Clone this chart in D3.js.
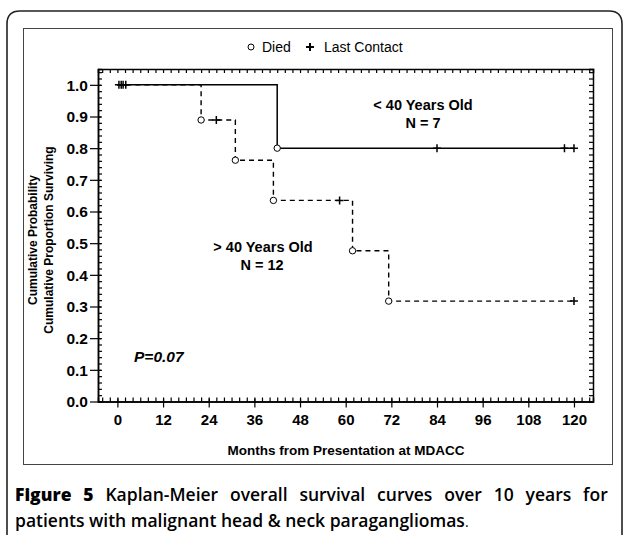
<!DOCTYPE html>
<html lang="en">
<head>
    <meta charset="UTF-8">
    <title>Kaplan-Meier overall survival</title>
    <script src="https://d3js.org/d3.v7.min.js"></script>
    <style>
        body {
            margin: 0;
            padding: 0;
            background: #fff;
        }
        svg text {
            font-family: "Liberation Sans", Arial, sans-serif;
            fill: #000;
        }
        .caption {
            font-family: "Open Sans", "Noto Sans", sans-serif !important;
        }
    </style>
</head>
<body>
    <script>
        // Datos
        const monthTicks = d3.range(0, 121, 12);
        const probTicks = d3.range(0, 1.01, 0.1);

        // < 40 años (N = 7), línea continua
        const youngSteps = [[0, 1.0], [42, 0.8], [120, 0.8]];
        const youngDied = [[42, 0.8]];
        const youngCensored = [[0.4, 1.0], [2.2, 1.0], [84, 0.8], [117.5, 0.8], [120, 0.8]];

        // > 40 años (N = 12), línea discontinua
        const oldSteps = [[0, 1.0], [22, 0.889], [31, 0.762], [41, 0.635], [61.8, 0.476], [71.3, 0.317], [120, 0.317]];
        const oldDied = [[22, 0.889], [31, 0.762], [41, 0.635], [61.8, 0.476], [71.3, 0.317]];
        const oldCensored = [[1.0, 1.0], [1.5, 1.0], [26, 0.889], [58.4, 0.635], [120, 0.317]];

        const W = 624, H = 535;
        const svg = d3.select("body").append("svg")
            .attr("width", W)
            .attr("height", H);

        // Marcos
        svg.append("path")
            .attr("d", "M7,560 L7,24 Q7,11 20,11 L609,11 Q622,11 622,24 L622,560")
            .attr("fill", "none")
            .attr("stroke", "#222")
            .attr("stroke-width", 1.6);

        svg.append("rect")
            .attr("x", 23.5).attr("y", 28.5)
            .attr("width", 589).attr("height", 436)
            .attr("fill", "none")
            .attr("stroke", "#444")
            .attr("stroke-width", 1);

        // Escalas
        const x = d3.scaleLinear().domain([-5.1, 125]).range([98, 593]);
        const y = d3.scaleLinear().domain([0, 1.05]).range([401.5, 69]);

        const minorX = d3.range(-4, 125, 2);
        const minorY = d3.range(0, 1.05, 0.02);

        const g = svg.append("g");

        // Ticks menores hacia dentro en los cuatro lados
        g.append("g")
            .attr("transform", `translate(0,${y(0)})`)
            .call(d3.axisBottom(x).tickValues(minorX).tickSize(-4).tickFormat(""));
        g.append("g")
            .attr("transform", `translate(0,${y(1.05)})`)
            .call(d3.axisTop(x).tickValues(minorX).tickSize(-4).tickFormat(""));
        g.append("g")
            .attr("transform", `translate(${x(-5.1)},0)`)
            .call(d3.axisLeft(y).tickValues(minorY).tickSize(-4).tickFormat(""));
        g.append("g")
            .attr("transform", `translate(${x(125)},0)`)
            .call(d3.axisRight(y).tickValues(minorY).tickSize(-4).tickFormat(""));

        // Ejes principales con etiquetas
        const xAxis = g.append("g")
            .attr("transform", `translate(0,${y(0)})`)
            .call(d3.axisBottom(x).tickValues(monthTicks).tickSize(6).tickPadding(7).tickSizeOuter(0));
        xAxis.selectAll(".tick line").attr("y1", -3);
        xAxis.selectAll("text")
            .attr("font-size", 15)
            .attr("font-weight", "bold");

        const yAxis = g.append("g")
            .attr("transform", `translate(${x(-5.1)},0)`)
            .call(d3.axisLeft(y).tickValues(probTicks).tickSize(8).tickPadding(2)
                .tickFormat(d3.format(".1f")).tickSizeOuter(0));
        yAxis.selectAll(".tick line").attr("x1", 3);
        yAxis.selectAll("text")
            .attr("font-size", 15.5)
            .attr("font-weight", "bold")
            .attr("dy", "0.35em");

        g.selectAll(".domain").attr("stroke-width", 1.5);
        g.selectAll(".tick line").attr("stroke-width", 1.2);

        // Curvas escalonadas
        const line = d3.line()
            .x(d => x(d[0]))
            .y(d => y(d[1]))
            .curve(d3.curveStepAfter);

        svg.append("path")
            .datum(youngSteps)
            .attr("d", line)
            .attr("fill", "none")
            .attr("stroke", "#000")
            .attr("stroke-width", 1.5);

        svg.append("path")
            .datum(oldSteps)
            .attr("d", line)
            .attr("fill", "none")
            .attr("stroke", "#000")
            .attr("stroke-width", 1.4)
            .attr("stroke-dasharray", "5,4");

        // Marcas: muertes (círculo) y último contacto (+)
        const died = youngDied.concat(oldDied);
        const censored = youngCensored.concat(oldCensored);

        svg.append("g").selectAll("circle")
            .data(died)
            .enter()
            .append("circle")
            .attr("cx", d => x(d[0]))
            .attr("cy", d => y(d[1]))
            .attr("r", 3.2)
            .attr("fill", "#fff")
            .attr("stroke", "#000")
            .attr("stroke-width", 1);

        svg.append("g").selectAll("path")
            .data(censored)
            .enter()
            .append("path")
            .attr("d", d => {
                const cx = x(d[0]), cy = y(d[1]);
                return `M${cx - 4},${cy}H${cx + 4}M${cx},${cy - 4}V${cy + 4}`;
            })
            .attr("stroke", "#000")
            .attr("stroke-width", 1.5);

        // Leyenda
        const legend = svg.append("g");
        legend.append("circle")
            .attr("cx", 251).attr("cy", 47).attr("r", 3)
            .attr("fill", "#fff").attr("stroke", "#000").attr("stroke-width", 1);
        legend.append("text")
            .attr("x", 262).attr("y", 52)
            .attr("font-size", 14)
            .text("Died");
        legend.append("path")
            .attr("d", "M306,47H314M310,43V51")
            .attr("stroke", "#000").attr("stroke-width", 2);
        legend.append("text")
            .attr("x", 324).attr("y", 52)
            .attr("font-size", 14)
            .text("Last Contact");

        // Etiquetas de grupos
        const labels = [
            { x: 423, y: 110, t: "< 40 Years Old" },
            { x: 423, y: 128, t: "N = 7" },
            { x: 263, y: 252, t: "> 40 Years Old" },
            { x: 262, y: 270, t: "N = 12" }
        ];
        svg.append("g").selectAll("text")
            .data(labels)
            .enter()
            .append("text")
            .attr("x", d => d.x)
            .attr("y", d => d.y)
            .attr("text-anchor", "middle")
            .attr("font-size", 14.5)
            .attr("font-weight", "bold")
            .text(d => d.t);

        svg.append("text")
            .attr("x", 134).attr("y", 362)
            .attr("font-size", 15.5)
            .attr("font-style", "italic")
            .attr("font-weight", "bold")
            .text("P=0.07");

        // Títulos de los ejes
        svg.append("text")
            .attr("x", 346).attr("y", 455)
            .attr("text-anchor", "middle")
            .attr("font-size", 13.5)
            .attr("font-weight", "bold")
            .text("Months from Presentation at MDACC");

        const yt = svg.append("g").attr("transform", "translate(0,240) rotate(-90)");
        yt.append("text")
            .attr("x", 0).attr("y", 37)
            .attr("text-anchor", "middle")
            .attr("font-size", 12)
            .attr("font-weight", "bold")
            .text("Cumulative Probability");
        yt.append("text")
            .attr("x", 0).attr("y", 53)
            .attr("text-anchor", "middle")
            .attr("font-size", 12)
            .attr("font-weight", "bold")
            .text("Cumulative Proportion Surviving");

        // Pie de figura (primera línea justificada con word-spacing)
        const cap1 = svg.append("text")
            .attr("class", "caption")
            .attr("x", 15).attr("y", 501)
            .attr("font-size", 17.5)
            .attr("font-weight", 600);
        cap1.append("tspan").attr("font-weight", 800).text("Figure 5");
        cap1.append("tspan").text(" Kaplan-Meier overall survival curves over 10 years for");
        const natural = cap1.node().getComputedTextLength();
        const spaces = 10;
        cap1.attr("word-spacing", (600 - natural) / spaces);

        const cap2 = svg.append("text")
            .attr("class", "caption")
            .attr("x", 15).attr("y", 527)
            .attr("font-size", 17.5)
            .attr("font-weight", 600);
        cap2.append("tspan").text("patients with malignant head & neck paragangliomas");
        cap2.append("tspan").attr("font-weight", "normal").attr("font-size", 14).text(".");
    </script>
</body>
</html>
